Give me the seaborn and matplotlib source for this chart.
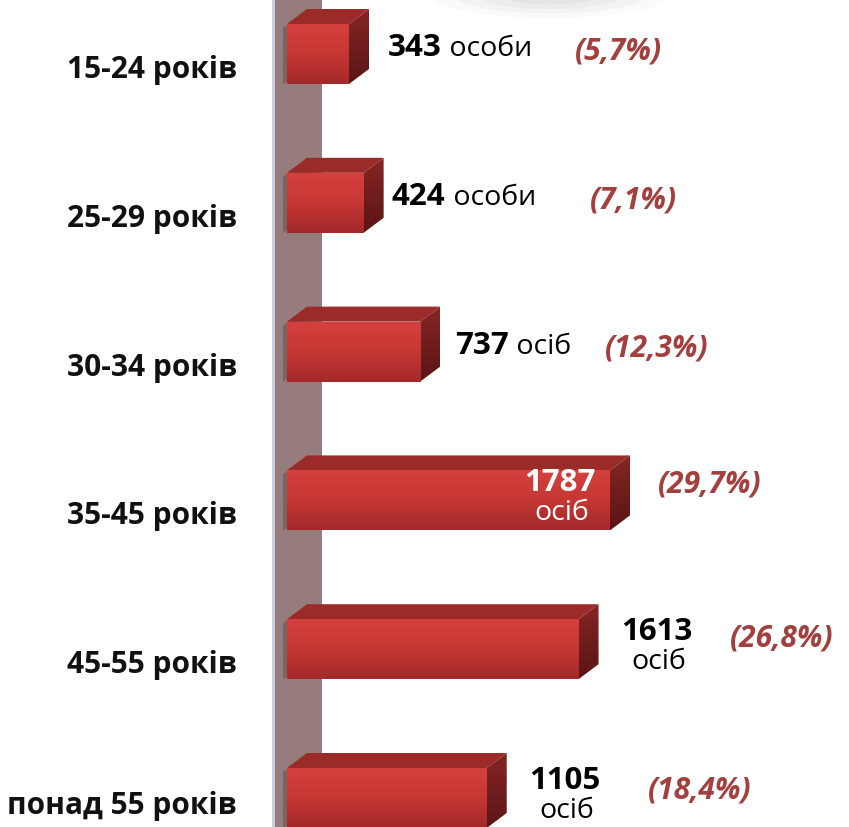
import matplotlib as mpl
import seaborn as sns
import pandas as pd
import numpy as np
from matplotlib.patches import Polygon, Ellipse
mpl.use('Agg')
plt = mpl.pyplot

# data
ages = ['15-24 років', '25-29 років', '30-34 років', '35-45 років', '45-55 років', 'понад 55 років']
counts = [343, 424, 737, 1787, 1613, 1105]
units = ['особи', 'особи', 'осіб', 'осіб', 'осіб', 'осіб']
shares = ['(5,7%)', '(7,1%)', '(12,3%)', '(29,7%)', '(26,8%)', '(18,4%)']

df = pd.DataFrame({'age': ages, 'count': counts})

sns.set_style('white')
plt.rcParams['font.family'] = ['Open Sans', 'DejaVu Sans']

W, H = 849, 827
fig = plt.figure(figsize=(W / 100, H / 100), dpi=100)
ax = fig.add_axes([0, 0, 1, 1])

sns.barplot(data=df, y='age', x='count', orient='h', color='#c83a38',
            width=0.403, ax=ax, zorder=3, linewidth=0)
bars = [p for p in ax.patches if p.get_width() > 0]

# pixel scale: value 0 sits at px 287, 1787 at px 610
KX = (610 - 287) / 1787
KY = 148.8
ax.set_xlim(-287 / KX, (W - 287) / KX)
ax.set_ylim((H - 54) / KY, -54 / KY)
ax.axis('off')


def px(x):
    return (x - 287) / KX


# back wall
ax.axvspan(px(272), px(322), color='#967c7c', zorder=1, lw=0)
ax.axvspan(px(272), px(275), color='#c9cfdc', zorder=1, lw=0)

# soft grey glow at the top
for r, a in [(1.0, 0.04), (0.8, 0.05), (0.6, 0.06), (0.4, 0.07)]:
    ax.add_patch(Ellipse((px(550), -54 / KY - 0.03), px(550 + 240 * r) - px(550),
                         0.3 * r, color='#808080', alpha=a, lw=0, zorder=0))

# 3D faces and gradients
dx = 20 / KX
dy = -15 / KY
grad = np.linspace(0, 1, 100).reshape(-1, 1)
front = mpl.colors.LinearSegmentedColormap.from_list('f', ['#d4403d', '#c63734', '#a3292a'])
side = mpl.colors.LinearSegmentedColormap.from_list('s', ['#862525', '#5a1515'])
for p in bars:
    x0, y0, w, h = p.get_x(), p.get_y(), p.get_width(), p.get_height()
    # shadow cast on the wall
    ax.add_patch(Polygon([(x0 - 4 / KX, y0 + 4 / KY), (x0 + dx, y0 + dy), (x0 + dx, y0 + h + dy),
                          (x0 - 4 / KX, y0 + h)],
                         color='#3a2a2a', alpha=0.3, lw=0, zorder=2))
    ax.add_patch(Polygon([(x0, y0), (x0 + w, y0), (x0 + w + dx, y0 + dy), (x0 + dx, y0 + dy)],
                         color='#9b2b29', lw=0, zorder=3))
    sp = Polygon([(x0 + w, y0), (x0 + w + dx, y0 + dy), (x0 + w + dx, y0 + h + dy), (x0 + w, y0 + h)],
                 facecolor='none', lw=0, zorder=3)
    ax.add_patch(sp)
    im = ax.imshow(grad, cmap=side, extent=(x0 + w, x0 + w + dx, y0 + h, y0 + dy),
                   aspect='auto', zorder=3)
    im.set_clip_path(sp)
    im = ax.imshow(grad, cmap=front, extent=(x0, x0 + w, y0 + h, y0), aspect='auto', zorder=4)
    im.set_clip_path(p)

ax.set_xlim(-287 / KX, (W - 287) / KX)
ax.set_ylim((H - 54) / KY, -54 / KY)

# category labels
label_dy = [16, 16, 16, 16, 16, 8]
for i, a in enumerate(ages):
    ax.text(px(237), i + label_dy[i] / KY, a, ha='right', va='center', fontsize=21.5,
            fontweight='bold', color='#111111', zorder=6)

# value labels
num_fs, unit_fs = 22.5, 20.5
one_line_x = [388, 392, 455]
for i in range(3):
    t = ax.text(px(one_line_x[i]), i - 6 / KY, str(counts[i]), ha='left', va='center',
                fontsize=num_fs, fontweight='bold', color='black', zorder=6)
    ax.annotate(' ' + units[i], xy=(1, 0), xycoords=t, ha='left', va='bottom',
                fontsize=unit_fs, color='black', zorder=6)

two_line = {3: (560, 'white'), 4: (657, 'black'), 5: (565, 'black')}
for i, (cx, c) in two_line.items():
    ax.text(px(cx), i - 17 / KY, str(counts[i]), ha='center', va='center',
            fontsize=num_fs, fontweight='bold', color=c, zorder=6)
    ax.text(px(cx + 2), i + 13 / KY, units[i], ha='center', va='center',
            fontsize=unit_fs, color=c, zorder=6)

# percentage labels
share_x = [618, 633, 657, 710, 782, 700]
share_dy = [-2, -2, -3, -16, -11, -8]
for i, s in enumerate(shares):
    ax.text(px(share_x[i]), i + share_dy[i] / KY, s, ha='center', va='center',
            fontsize=21.5, fontweight='bold', fontstyle='italic', color='#a3403f', zorder=6)

fig.savefig('out.png', dpi=100)
